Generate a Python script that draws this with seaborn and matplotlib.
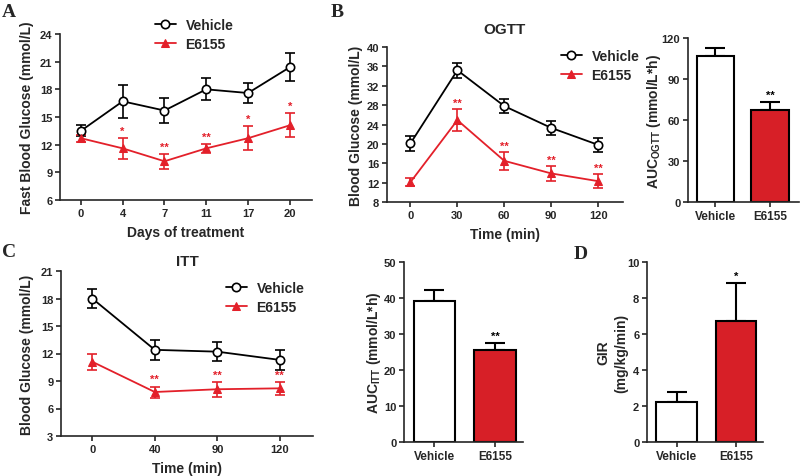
import numpy as np
import seaborn as sns
import matplotlib.pyplot as plt

sns.set_theme(style="ticks")
plt.rcParams['font.family'] = ['Liberation Sans', 'DejaVu Sans']
plt.rcParams['font.weight'] = 'bold'
plt.rcParams['axes.labelweight'] = 'bold'
plt.rcParams['axes.titleweight'] = 'bold'
plt.rcParams['mathtext.fontset'] = 'custom'
plt.rcParams['mathtext.rm'] = 'Liberation Sans:bold'
plt.rcParams['mathtext.bf'] = 'Liberation Sans:bold'
plt.rcParams['axes.linewidth'] = 1.2

# ---- data ----
groups = ['Vehicle', 'E6155']

days = ['0', '4', '7', '11', '17', '20']
fbg_veh = [13.5, 16.7, 15.7, 18.0, 17.6, 20.4]
fbg_veh_err = [0.6, 1.8, 1.4, 1.2, 1.1, 1.5]
fbg_e6155 = [12.7, 11.6, 10.2, 11.6, 12.7, 14.1]
fbg_e6155_err = [0.4, 1.1, 0.8, 0.5, 1.3, 1.3]
fbg_stars = ['', '*', '**', '**', '*', '*']

ogtt_time = ['0', '30', '60', '90', '120']
ogtt_veh = [20.1, 35.2, 27.8, 23.3, 19.8]
ogtt_veh_err = [1.5, 1.5, 1.5, 1.4, 1.4]
ogtt_e6155 = [12.1, 24.9, 16.5, 13.9, 12.3]
ogtt_e6155_err = [0.8, 2.2, 1.8, 1.5, 1.5]
ogtt_stars = ['', '**', '**', '**', '**']

auc_ogtt = [106.5, 67.5]
auc_ogtt_err = [6.0, 6.0]
auc_ogtt_stars = ['', '**']

itt_time = ['0', '40', '90', '120']
itt_veh = [18.0, 12.4, 12.2, 11.3]
itt_veh_err = [1.0, 1.1, 1.05, 1.1]
itt_e6155 = [11.1, 7.8, 8.1, 8.2]
itt_e6155_err = [0.9, 0.6, 0.8, 0.7]
itt_stars = ['', '**', '**', '**']

auc_itt = [39.2, 25.5]
auc_itt_err = [3.0, 2.0]
auc_itt_stars = ['', '**']

gir = [2.2, 6.7]
gir_err = [0.6, 2.15]
gir_stars = ['', '*']

RED_LINE = '#e3202a'
RED_BAR = '#d71f27'
W, H = 800, 477

fig = plt.figure(figsize=(W / 100, H / 100), dpi=100)


def px_axes(x0, y0, x1, y1):
    return fig.add_axes([x0 / W, 1 - y1 / H, (x1 - x0) / W, (y1 - y0) / H])


def style(ax):
    sns.despine(ax=ax)
    ax.tick_params(axis='both', direction='out', length=3.5, width=1.2,
                   labelsize=8, pad=2)
    for lab in ax.get_xticklabels() + ax.get_yticklabels():
        lab.set_fontweight('bold')


def line_panel(ax, cats, veh, veh_err, e6, e6_err, stars, yticks):
    x = np.arange(len(cats))
    sns.lineplot(x=x, y=veh, ax=ax, color='black', lw=1.3, marker='o',
                 markersize=6, markerfacecolor='white', markeredgecolor='black',
                 markeredgewidth=1.2, label='Vehicle', zorder=3)
    sns.lineplot(x=x, y=e6, ax=ax, color=RED_LINE, lw=1.3, marker='^',
                 markersize=6, markeredgecolor=RED_LINE, label='E6155', zorder=3)
    ax.errorbar(x, veh, yerr=veh_err, fmt='none', ecolor='black',
                elinewidth=1.2, capsize=3.5, capthick=1.2, zorder=2)
    ax.errorbar(x, e6, yerr=e6_err, fmt='none', ecolor=RED_LINE,
                elinewidth=1.2, capsize=3.5, capthick=1.2, zorder=2)
    step = yticks[1] - yticks[0]
    for xi, yi, ei, s in zip(x, e6, e6_err, stars):
        if s:
            ax.text(xi, yi + ei + step * 0.08, s, color=RED_LINE, ha='center',
                    va='bottom', fontsize=8)
    ax.set_xticks(x)
    ax.set_xticklabels(cats)
    ax.set_yticks(yticks)
    ax.set_ylim(yticks[0], yticks[-1])
    ax.set_xlim(-0.5, len(cats) - 0.47)
    style(ax)


def leg(ax, x_px, y_px):
    ax.legend(loc='upper left', bbox_to_anchor=(x_px / W, 1 - y_px / H),
              bbox_transform=fig.transFigure, frameon=False, fontsize=10,
              borderpad=0, handlelength=1.5, handletextpad=0.7,
              labelspacing=0.35, borderaxespad=0)


def bar_panel(ax, vals, errs, stars, yticks, xmax):
    sns.barplot(x=groups, y=vals, hue=groups, palette=['white', RED_BAR],
                saturation=1, edgecolor='black', linewidth=1.5, width=0.68,
                legend=False, ax=ax, zorder=2)
    ax.errorbar([0, 1], vals, yerr=[[0, 0], errs], fmt='none', ecolor='black',
                elinewidth=1.5, capsize=7, capthick=1.5, zorder=1)
    step = yticks[1] - yticks[0]
    for xi, yi, ei, s in zip([0, 1], vals, errs, stars):
        if s:
            ax.text(xi, yi + ei + step * 0.05, s, color='black', ha='center',
                    va='bottom', fontsize=8)
    ax.set_yticks(yticks)
    ax.set_ylim(yticks[0], yticks[-1])
    ax.set_xlim(-0.5, xmax)
    ax.set_xlabel('')
    style(ax)
    ax.tick_params(axis='x', labelsize=8.5)


def ylab(ax, text, right_px, x0_px, w_px, **kw):
    ax.set_ylabel(text, fontsize=10, **kw)
    ax.yaxis.set_label_coords((right_px - x0_px) / w_px, 0.5)


# ---- A ----
axA = px_axes(60, 35, 312, 201)
line_panel(axA, days, fbg_veh, fbg_veh_err, fbg_e6155, fbg_e6155_err,
           fbg_stars, list(range(6, 25, 3)))
leg(axA, 155, 19)
axA.set_xlabel('Days of treatment', fontsize=10, labelpad=5)
ylab(axA, 'Fast Blood Glucose (mmol/L)', 34, 60, 252)

# ---- B ----
axB = px_axes(387, 48, 623, 203)
line_panel(axB, ogtt_time, ogtt_veh, ogtt_veh_err, ogtt_e6155, ogtt_e6155_err,
           ogtt_stars, list(range(8, 41, 4)))
leg(axB, 561, 50)
axB.set_title('OGTT', fontsize=11, pad=10)
axB.set_xlabel('Time (min)', fontsize=10, labelpad=5)
ylab(axB, 'Blood Glucose (mmol/L)', 363, 387, 236)

axB2 = px_axes(688, 39, 799, 203)
bar_panel(axB2, auc_ogtt, auc_ogtt_err, auc_ogtt_stars, list(range(0, 121, 30)), 1.53)
ylab(axB2, r'AUC$_{\mathrm{OGTT}}$ (mmol/L*h)', 663, 688, 111)

# ---- C ----
axC = px_axes(61, 272, 313, 437)
line_panel(axC, itt_time, itt_veh, itt_veh_err, itt_e6155, itt_e6155_err,
           itt_stars, list(range(3, 22, 3)))
leg(axC, 226, 282)
axC.set_title('ITT', fontsize=11, pad=4)
axC.set_xlabel('Time (min)', fontsize=10, labelpad=5)
ylab(axC, 'Blood Glucose (mmol/L)', 34, 61, 252)

axC2 = px_axes(404, 263, 523, 443)
bar_panel(axC2, auc_itt, auc_itt_err, auc_itt_stars, list(range(0, 51, 10)), 1.46)
ylab(axC2, r'AUC$_{\mathrm{ITT}}$ (mmol/L*h)', 383, 404, 119)

# ---- D ----
axD = px_axes(647, 263, 763, 443)
bar_panel(axD, gir, gir_err, gir_stars, list(range(0, 11, 2)), 1.46)
ylab(axD, 'GIR\n(mg/kg/min)', 628, 647, 116, linespacing=1.3)

# panel letters
for letter, x, y in [('A', 2, 4), ('B', 331, 4), ('C', 2, 244), ('D', 574, 246)]:
    fig.text(x / W, 1 - y / H, letter, fontsize=14, fontweight='bold',
             family='Liberation Serif', ha='left', va='top')

fig.savefig('out.png', dpi=100)
